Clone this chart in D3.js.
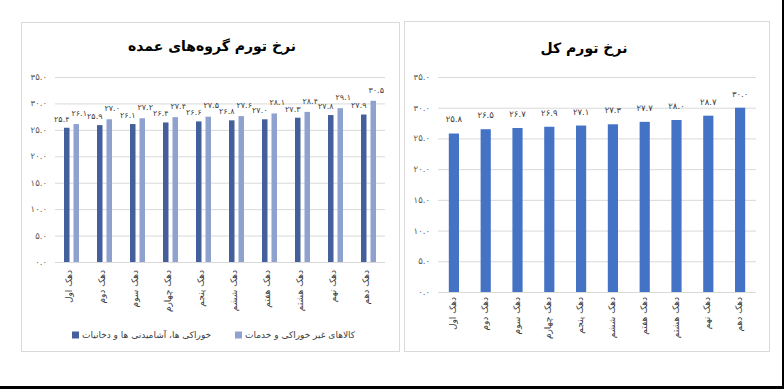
<!DOCTYPE html>
<html lang="fa">
<head>
<meta charset="UTF-8">
<title>نرخ تورم</title>
<style>
  body { margin: 0; background: #fff; }
  svg text { font-family: "DejaVu Sans", sans-serif; }
</style>
</head>
<body>
<script src="https://d3js.org/d3.v7.min.js"></script>
<script>
// deciles
const deciles = ["دهک اول", "دهک دوم", "دهک سوم", "دهک چهارم", "دهک پنجم",
                 "دهک ششم", "دهک هفتم", "دهک هشتم", "دهک نهم", "دهک دهم"];

// left chart: major groups
const foodValues = [25.4, 25.9, 26.1, 26.4, 26.6, 26.8, 27.0, 27.3, 27.8, 27.9];
const nonFoodValues = [26.1, 27.0, 27.2, 27.4, 27.5, 27.6, 28.1, 28.4, 29.1, 30.5];
const seriesNames = ["خوراکی ها، آشامیدنی ها و دخانیات", "کالاهای غیر خوراکی و خدمات"];

// right chart: total
const totalValues = [25.8, 26.5, 26.7, 26.9, 27.1, 27.3, 27.7, 28.0, 28.7, 30.0];

const yTicks = [0, 5, 10, 15, 20, 25, 30, 35];

const faDigits = "۰۱۲۳۴۵۶۷۸۹";
const fa = v => v.toFixed(1).replace(/\d/g, d => faDigits[+d]);

const svg = d3.select("body").append("svg").attr("width", 784).attr("height", 389);
svg.append("rect").attr("width", 784).attr("height", 389).attr("fill", "#fff");

// frame lines at the image edge
svg.append("rect").attr("x", 782).attr("y", 0).attr("width", 2).attr("height", 389).attr("fill", "#000");
svg.append("rect").attr("x", 0).attr("y", 386).attr("width", 784).attr("height", 3).attr("fill", "#000");

// panels
svg.append("rect").attr("x", 21.5).attr("y", 22.5).attr("width", 378).attr("height", 329)
    .attr("fill", "#fff").attr("stroke", "#d9d9d9");
svg.append("rect").attr("x", 404.5).attr("y", 21.5).attr("width", 365).attr("height", 330)
    .attr("fill", "#fff").attr("stroke", "#d9d9d9");

function drawGrid(g, y, x0, x1, labelX) {
    g.selectAll(".grid").data(yTicks).enter().append("line")
        .attr("x1", x0).attr("x2", x1)
        .attr("y1", d => y(d) + 0.5).attr("y2", d => y(d) + 0.5)
        .attr("stroke", "#d9d9d9");
    g.selectAll(".ytick").data(yTicks).enter().append("text")
        .attr("x", labelX).attr("y", d => y(d)).attr("dy", "0.35em")
        .attr("text-anchor", "end").attr("font-size", 8.5).attr("fill", "#595959")
        .text(d => fa(d));
}

function drawXLabels(g, x, top, shift) {
    g.selectAll(".xlab").data(deciles).enter().append("text")
        .attr("transform", d => `translate(${x(d) + x.bandwidth() / 2 + shift},${top}) rotate(-90)`)
        .attr("dy", "0.35em")
        .attr("text-anchor", "end").attr("font-size", 9).attr("fill", "#404040")
        .text(d => d);
}

// ---------- left chart ----------
const gL = svg.append("g");
const xL = d3.scaleBand().domain(deciles).range([55, 385]);
const yL = d3.scaleLinear().domain([0, 35]).range([262, 77]);
const barW = 5.5, gap = 4;

gL.append("text").attr("x", 212).attr("y", 46).attr("dy", "0.35em")
    .attr("text-anchor", "middle").attr("font-size", 14).attr("font-weight", "bold")
    .attr("fill", "#000").text("نرخ تورم گروه‌های عمده");

drawGrid(gL, yL, 55, 385, 47);

const darkX = d => xL(d) + xL.bandwidth() / 2 - gap / 2 - barW;
const lightX = d => xL(d) + xL.bandwidth() / 2 + gap / 2;

gL.selectAll(".food").data(deciles).enter().append("rect")
    .attr("x", d => darkX(d)).attr("width", barW)
    .attr("y", (d, i) => yL(foodValues[i])).attr("height", (d, i) => yL(0) - yL(foodValues[i]))
    .attr("fill", "#44609c");
gL.selectAll(".nonfood").data(deciles).enter().append("rect")
    .attr("x", d => lightX(d)).attr("width", barW)
    .attr("y", (d, i) => yL(nonFoodValues[i])).attr("height", (d, i) => yL(0) - yL(nonFoodValues[i]))
    .attr("fill", "#8fa2cf");

gL.selectAll(".foodlab").data(deciles).enter().append("text")
    .attr("x", d => darkX(d) + barW).attr("y", (d, i) => yL(foodValues[i]) - 9).attr("dy", "0.35em")
    .attr("text-anchor", "end").attr("font-size", 8).attr("letter-spacing", -0.5).attr("fill", "#404040")
    .text((d, i) => fa(foodValues[i]));
gL.selectAll(".nonfoodlab").data(deciles).enter().append("text")
    .attr("x", d => lightX(d) - 2).attr("y", (d, i) => yL(nonFoodValues[i]) - 11).attr("dy", "0.35em")
    .attr("text-anchor", "start").attr("font-size", 8).attr("letter-spacing", -0.5).attr("fill", "#404040")
    .text((d, i) => fa(nonFoodValues[i]));

drawXLabels(gL, xL, 270, -3);

// legend
const legend = [
    { name: seriesNames[0], color: "#44609c", x: 72 },
    { name: seriesNames[1], color: "#8fa2cf", x: 235 }
];
const lg = gL.selectAll(".leg").data(legend).enter().append("g")
    .attr("transform", d => `translate(${d.x},335)`);
lg.append("rect").attr("x", 0).attr("y", -3.5).attr("width", 7).attr("height", 7).attr("fill", d => d.color);
lg.append("text").attr("x", 10).attr("dy", "0.35em").attr("font-size", 9).attr("fill", "#404040")
    .attr("text-anchor", "start").text(d => d.name);

// ---------- right chart ----------
const gR = svg.append("g");
const xR = d3.scaleBand().domain(deciles).range([438, 756]).paddingInner(0.68).paddingOuter(0.34);
const yR = d3.scaleLinear().domain([0, 35]).range([292, 77]);

gR.append("text").attr("x", 584).attr("y", 48).attr("dy", "0.35em")
    .attr("text-anchor", "middle").attr("font-size", 14).attr("font-weight", "bold")
    .attr("fill", "#000").text("نرخ تورم کل");

drawGrid(gR, yR, 438, 756, 430);

gR.selectAll(".total").data(deciles).enter().append("rect")
    .attr("x", d => xR(d)).attr("width", xR.bandwidth())
    .attr("y", (d, i) => yR(totalValues[i])).attr("height", (d, i) => yR(0) - yR(totalValues[i]))
    .attr("fill", "#4472c4");
gR.selectAll(".totallab").data(deciles).enter().append("text")
    .attr("x", d => xR(d) + xR.bandwidth() / 2).attr("y", (d, i) => yR(totalValues[i]) - 14).attr("dy", "0.35em")
    .attr("text-anchor", "middle").attr("font-size", 8.5).attr("fill", "#404040")
    .text((d, i) => fa(totalValues[i]));

const xR2 = d3.scaleBand().domain(deciles).range([438, 756]);
drawXLabels(gR, xR2, 297, -1);
</script>
</body>
</html>
